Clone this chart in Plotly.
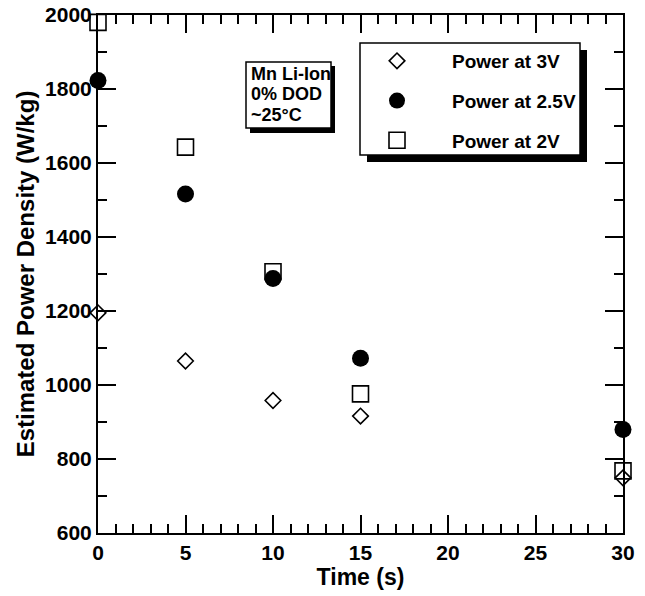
import plotly.graph_objects as go

# ---------------- data ----------------
time_s = [0, 5, 10, 15, 30]
power_3v = [1195, 1065, 958, 916, 749]
power_2p5v = [1823, 1516, 1288, 1072, 880]
power_2v = [1980, 1643, 1306, 976, 768]
series_names = ["Power at 3V", "Power at 2.5V", "Power at 2V"]
note_lines = ["Mn Li-Ion", "0% DOD", "~25°C"]
x_title = "Time (s)"
y_title = "Estimated Power Density (W/kg)"

# ---------------- layout helpers ----------------
W, H = 645, 596
PL, PR, PT, PB = 98, 623, 15, 533


def px(x):
    return (x - PL) / (PR - PL)


def py(y):
    return (PB - y) / (PB - PT)


FONT = "Liberation Sans, Arial, sans-serif"

fig = go.Figure()
fig.add_trace(go.Scatter(
    x=time_s, y=power_3v, name=series_names[0], mode="markers",
    legendgroup="a", cliponaxis=False,
    marker=dict(symbol="diamond-open", size=12, color="black",
                line=dict(width=1.6, color="black"))))
fig.add_trace(go.Scatter(
    x=time_s, y=power_2p5v, name=series_names[1], mode="markers",
    legendgroup="b", cliponaxis=False,
    marker=dict(symbol="circle", size=17, color="black",
                line=dict(width=0))))
fig.add_trace(go.Scatter(
    x=time_s, y=power_2v, name=series_names[2], mode="markers",
    legendgroup="c", cliponaxis=False,
    marker=dict(symbol="square-open", size=16, color="black",
                line=dict(width=1.6, color="black"))))

axis_common = dict(
    showline=True, linecolor="black", linewidth=2, mirror="allticks",
    ticks="inside", ticklen=18, tickwidth=1.6, tickcolor="black",
    showgrid=False, zeroline=False, automargin=False,
    tickfont=dict(family=FONT, size=21, color="black", weight="bold"),
)

fig.update_xaxes(
    range=[0, 30], dtick=5, tick0=0,
    minor=dict(dtick=1, ticks="inside", ticklen=9, tickwidth=1.6,
               tickcolor="black", showgrid=False),
    title=dict(text=x_title, standoff=6,
               font=dict(family=FONT, size=23, color="black", weight="bold")),
    **axis_common)
fig.update_yaxes(
    range=[600, 2000], dtick=200, tick0=600,
    minor=dict(dtick=100, ticks="inside", ticklen=9, tickwidth=1.6,
               tickcolor="black", showgrid=False),
    title=dict(text=y_title, standoff=4,
               font=dict(family=FONT, size=24, color="black", weight="bold")),
    **axis_common)

shapes = [
    # note box shadow + box
    dict(type="rect", xref="paper", yref="paper", layer="above",
         x0=px(250), x1=px(335), y0=py(133), y1=py(66),
         fillcolor="black", line=dict(width=0)),
    dict(type="rect", xref="paper", yref="paper", layer="above",
         x0=px(246), x1=px(331), y0=py(128), y1=py(62),
         fillcolor="white", line=dict(width=1.5, color="black")),
    # legend shadow + box
    dict(type="rect", xref="paper", yref="paper", layer="above",
         x0=px(367), x1=px(587), y0=py(162), y1=py(50),
         fillcolor="black", line=dict(width=0)),
    dict(type="rect", xref="paper", yref="paper", layer="above",
         x0=px(360), x1=px(580), y0=py(155), y1=py(43),
         fillcolor="white", line=dict(width=1.5, color="black")),
]

annotations = []
for line, yy in zip(note_lines, [74, 94, 115]):
    annotations.append(dict(
        text=line, xref="paper", yref="paper", x=px(249), y=py(yy),
        xanchor="left", yanchor="middle", showarrow=False,
        font=dict(family=FONT, size=18, color="black", weight="bold")))

fig.update_layout(
    width=W, height=H, autosize=False,
    margin=dict(l=PL, r=W - PR, t=PT, b=H - PB, autoexpand=False),
    paper_bgcolor="white", plot_bgcolor="white",
    shapes=shapes, annotations=annotations,
    showlegend=True,
    legend=dict(x=px(342), xanchor="left", y=py(42), yanchor="top",
                bgcolor="rgba(0,0,0,0)", borderwidth=0,
                itemwidth=100, tracegroupgap=12,
                font=dict(family=FONT, size=19, color="black", weight="bold")),
)

fig.write_html("out.html")
